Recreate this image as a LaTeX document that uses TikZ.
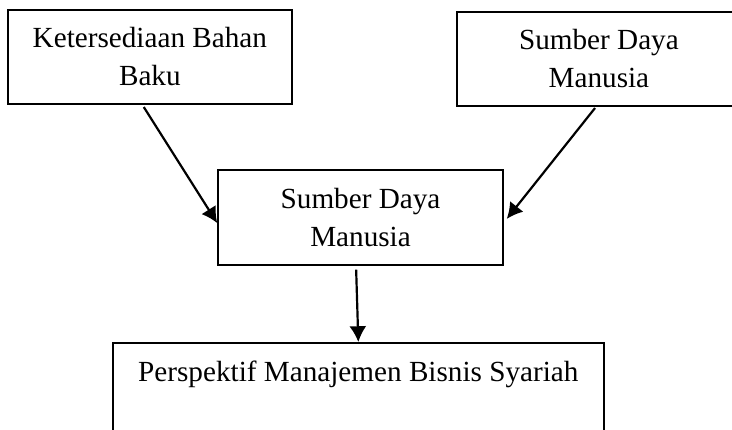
\documentclass[tikz,border=0pt]{standalone}
\usepackage{fontspec}
\setmainfont{Liberation Serif}
\usetikzlibrary{arrows.meta}

\begin{document}
\begin{tikzpicture}[x=1pt,y=1pt,
    kotak/.style={draw,line width=0.8pt,inner sep=0pt,align=center,
      minimum width=117pt,minimum height=38.8pt,
      font={\fontsize{12}{15.6}\selectfont}},
    panah/.style={line width=0.9pt,-{Latex[length=6.5pt,width=7pt]}}]
      \useasboundingbox (0,0) rectangle (300.9,-176.7);
      \clip (0,0) rectangle (300.9,-176.7);
      %% Boxes
      \node[kotak] (bahan) at (61.6,-23.4) {Ketersediaan Bahan\\Baku};
      \node[kotak] (sdmatas) at (246.2,-24.2) {Sumber Daya\\Manusia};
      \node[kotak] (sdm) at (148.2,-89.4) {Sumber Daya\\Manusia};
      \node[kotak,minimum width=201.8pt,anchor=north] (bisnis) at (147.3,-140.6)
        {Perspektif Manajemen Bisnis Syariah\\ \mbox{}};
      %% Arrows
      \draw[panah] ([xshift=-2.5pt,yshift=-0.8pt]bahan.south) -- ([yshift=-2.3pt]sdm.west);
      \draw[panah] ([xshift=-1.6pt,yshift=-0.4pt]sdmatas.south) -- ([xshift=1.2pt,yshift=-0.6pt]sdm.east);
      \draw[panah] ([xshift=-1.8pt,yshift=-1.6pt]sdm.south) -- (bisnis.north);
    \end{tikzpicture}
\end{document}
